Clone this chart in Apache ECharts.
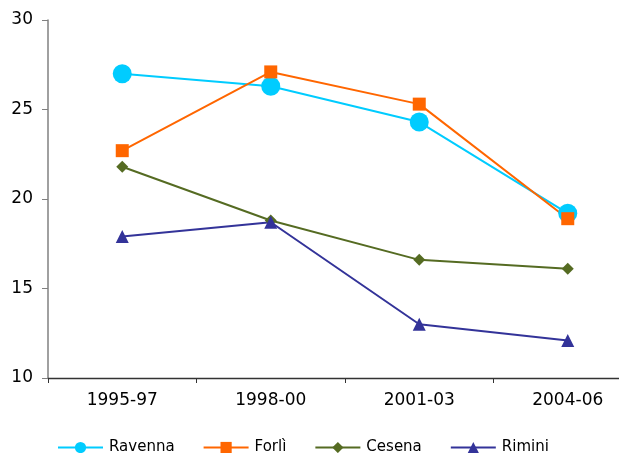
<!DOCTYPE html>
<html>
<head>
<meta charset="utf-8">
<script src="https://cdn.jsdelivr.net/npm/echarts@6/dist/echarts.min.js"></script>
<style>
  html, body { margin: 0; padding: 0; background: #fff; }
  #chart { width: 619px; height: 453px; }
</style>
</head>
<body>
<div id="chart"></div>
<script>
// Periods on the category axis
const periods = ['1995-97', '1998-00', '2001-03', '2004-06'];

// Values per province
const ravenna = [27.0, 26.3, 24.3, 19.2];
const forli   = [22.7, 27.1, 25.3, 18.9];
const cesena  = [21.8, 18.8, 16.6, 16.1];
const rimini  = [17.9, 18.7, 13.0, 12.1];

// Y axis range
const yMin = 10, yMax = 30, yStep = 5;

const FONT = 'DejaVu Sans';

function lineSeries(name, data, color, symbol, size) {
  return {
    name: name,
    type: 'line',
    data: data,
    symbol: symbol,
    symbolSize: size,
    showAllSymbol: true,
    lineStyle: { color: color, width: 2 },
    itemStyle: { color: color },
    emphasis: { disabled: true },
    animation: false
  };
}

const chart = echarts.init(document.getElementById('chart'), null, { renderer: 'canvas' });
chart.setOption({
  backgroundColor: '#ffffff',
  animation: false,
  grid: { left: 48, top: 20, width: 594, height: 358, outerBoundsMode: 'none', containLabel: false },
  legend: {
    left: 57,
    top: 440,
    padding: 0,
    itemWidth: 45,
    itemHeight: 14,
    itemGap: 28,
    textStyle: { fontFamily: FONT, fontSize: 15, color: '#000', padding: [0, 0, 0, 1] },
    data: ['Ravenna', 'Forlì', 'Cesena', 'Rimini']
  },
  xAxis: {
    type: 'category',
    data: periods,
    boundaryGap: true,
    axisLine: { lineStyle: { color: '#333333', width: 1.3 } },
    axisTick: { show: true, inside: false, length: 5, lineStyle: { color: '#333333' } },
    axisLabel: { fontFamily: FONT, fontSize: 17, color: '#000', margin: 14 },
    splitLine: { show: false }
  },
  yAxis: {
    type: 'value',
    min: yMin,
    max: yMax,
    interval: yStep,
    axisLine: { show: true, lineStyle: { color: '#808080', width: 1.5 } },
    axisTick: { show: true, inside: false, length: 6, lineStyle: { color: '#808080' } },
    axisLabel: { fontFamily: FONT, fontSize: 17, color: '#000', margin: 15, padding: [3, 0, 0, 0] },
    splitLine: { show: false }
  },
  series: [
    lineSeries('Ravenna', ravenna, '#00CCFF', 'circle', 19),
    lineSeries('Forlì', forli, '#FF6600', 'rect', 13),
    lineSeries('Cesena', cesena, '#556B22', 'diamond', 12),
    lineSeries('Rimini', rimini, '#333399', 'triangle', 13)
  ]
});
</script>
</body>
</html>
